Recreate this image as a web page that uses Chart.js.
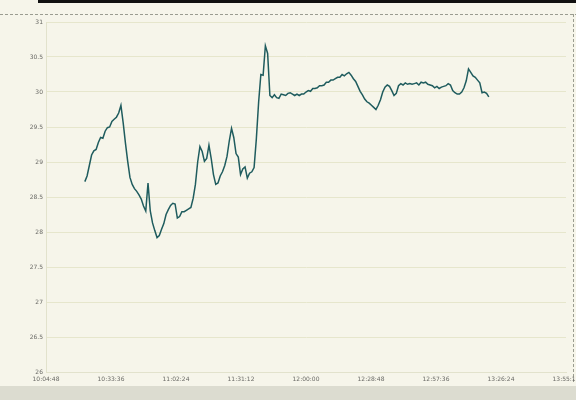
<!DOCTYPE html>
<html>
<head>
<meta charset="utf-8">
<script src="https://cdn.jsdelivr.net/npm/chart.js@4"></script>
<style>
  html, body { margin: 0; padding: 0; overflow: hidden; background: #f6f5ea; }
  #wrap { width: 590px; height: 400px; }
</style>
</head>
<body>
<div id="wrap"><canvas id="tempChart"></canvas></div>
<script>
// minutes after 10:00 for each logged reading
const minutes = [
  22, 23, 24, 25, 26, 27, 28, 29, 30, 31, 32, 33, 34, 35, 36, 37, 38, 39, 40, 41,
  42, 43, 44, 45, 46, 47, 48, 49, 50, 51, 52, 53, 54, 55, 56, 57, 58, 59, 60, 61,
  62, 63, 64, 65, 66, 67, 68, 69, 70, 71, 72, 73, 74, 75, 76, 77, 78, 79, 80, 81,
  82, 83, 84, 85, 86, 87, 88, 89, 90, 91, 92, 93, 94, 95, 96, 97, 98, 99, 100, 101,
  102, 103, 104, 105, 106, 107, 108, 109, 110, 111, 112, 113, 114, 115, 116, 117, 118, 119, 120, 121,
  122, 123, 124, 125, 126, 127, 128, 129, 130, 131, 132, 133, 134, 135, 136, 137, 138, 139, 140, 141,
  142, 143, 144, 145, 146, 147, 148, 149, 150, 151, 152, 153, 154, 155, 156, 157, 158, 159, 160, 161,
  162, 163, 164, 165, 166, 167, 168, 169, 170, 171, 172, 173, 174, 175, 176, 177, 178, 179, 180, 181,
  182, 183, 184, 185, 186, 187, 188, 189, 190, 191, 192, 193, 194, 195, 196, 197, 198, 199, 200, 201
];

const temps = [
  28.72, 28.80, 28.95, 29.10, 29.16, 29.18, 29.28, 29.35, 29.34, 29.44, 29.49, 29.50, 29.58, 29.61, 29.64, 29.70, 29.81, 29.56, 29.27, 29.01,
  28.78, 28.68, 28.62, 28.58, 28.53, 28.47, 28.37, 28.30, 28.70, 28.30, 28.13, 28.02, 27.92, 27.95, 28.04, 28.12, 28.25, 28.32, 28.38, 28.41,
  28.40, 28.20, 28.22, 28.29, 28.29, 28.31, 28.33, 28.35, 28.48, 28.68, 29.00, 29.22, 29.15, 29.01, 29.05, 29.24, 29.05, 28.82, 28.68, 28.70,
  28.80, 28.86, 28.95, 29.08, 29.30, 29.48, 29.35, 29.12, 29.07, 28.82, 28.90, 28.93, 28.77, 28.84, 28.86, 28.92, 29.33, 29.85, 30.25, 30.24,
  30.66, 30.55, 29.95, 29.92, 29.96, 29.92, 29.91, 29.97, 29.96, 29.95, 29.98, 29.99, 29.97, 29.95, 29.97, 29.95, 29.97, 29.97, 30.00, 30.02,
  30.01, 30.05, 30.05, 30.06, 30.09, 30.09, 30.10, 30.14, 30.14, 30.17, 30.17, 30.19, 30.21, 30.21, 30.25, 30.23, 30.26, 30.28, 30.24, 30.19,
  30.15, 30.08, 30.01, 29.96, 29.90, 29.86, 29.84, 29.81, 29.78, 29.75, 29.81, 29.89, 30.00, 30.07, 30.10, 30.08, 30.02, 29.95, 29.98, 30.09,
  30.12, 30.10, 30.13, 30.11, 30.12, 30.11, 30.12, 30.13, 30.10, 30.14, 30.13, 30.14, 30.11, 30.10, 30.09, 30.06, 30.08, 30.05, 30.07, 30.08,
  30.09, 30.12, 30.10, 30.02, 29.99, 29.97, 29.97, 30.00, 30.06, 30.16, 30.33, 30.28, 30.23, 30.21, 30.17, 30.13, 29.99, 30.00, 29.98, 29.93
];

// axis range: 10:04:48 to 13:55:12 every 28.8 min, 26 to 31 every 0.5
const xMin = 4.8;
const xMax = 235.2;
const xStep = 28.8;
const yMin = 26;
const yMax = 31;
const yStep = 0.5;

function fmtTime(v) {
  let s = Math.round((600 + v) * 60);
  const h = Math.floor(s / 3600);
  const m = Math.floor((s % 3600) / 60);
  s = s % 60;
  return h + ':' + String(m).padStart(2, '0') + ':' + String(s).padStart(2, '0');
}

// paper background + bits of the scanned frame
const paper = {
  id: 'paper',
  beforeDraw(chart) {
    const c = chart.ctx;
    c.save();
    c.fillStyle = '#f6f5ea';
    c.fillRect(0, 0, chart.width, chart.height);
    c.fillStyle = '#111';
    c.fillRect(38, 0, 540, 3);
    c.strokeStyle = '#9a9c90';
    c.setLineDash([3, 2]);
    c.lineWidth = 1;
    c.beginPath();
    c.moveTo(0, 14.5);
    c.lineTo(chart.width, 14.5);
    c.moveTo(573.5, 14);
    c.lineTo(573.5, 384);
    c.stroke();
    c.setLineDash([]);
    c.fillStyle = '#dcdcd0';
    c.fillRect(0, 386, chart.width, 14);
    c.restore();
  }
};

const points = minutes.map((m, i) => ({ x: m, y: temps[i] }));

new Chart(document.getElementById('tempChart'), {
  type: 'line',
  data: {
    datasets: [{
      data: points,
      borderColor: '#1f5c5e',
      borderWidth: 1.5,
      pointRadius: 0,
      tension: 0,
      fill: false
    }]
  },
  options: {
    responsive: true,
    maintainAspectRatio: false,
    animation: false,
    layout: { padding: { top: 22, right: 24, left: 0, bottom: 0 } },
    plugins: { legend: { display: false }, tooltip: { enabled: false } },
    scales: {
      x: {
        type: 'linear',
        min: xMin,
        max: xMax,
        ticks: {
          stepSize: xStep,
          callback: v => fmtTime(v),
          font: { family: 'DejaVu Sans', size: 6 },
          color: '#6a6a66',
          padding: 4,
          maxRotation: 0,
          autoSkip: false
        },
        grid: { display: false, drawTicks: false },
        border: { display: true, color: '#e2e2cc' },
        afterFit(scale) { scale.height = 28; }
      },
      y: {
        min: yMin,
        max: yMax,
        ticks: {
          stepSize: yStep,
          callback: v => String(+v.toFixed(1)),
          font: { family: 'DejaVu Sans', size: 6 },
          color: '#6a6a66',
          padding: 3
        },
        grid: { color: '#e6e6cc', drawTicks: false },
        border: { display: true, color: '#e2e2cc' },
        afterFit(scale) { scale.width = 46; }
      }
    }
  },
  plugins: [paper]
});
</script>
</body>
</html>
